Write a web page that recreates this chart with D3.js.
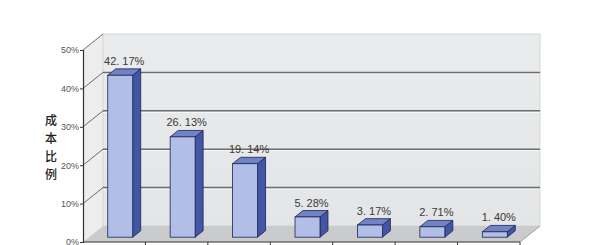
<!DOCTYPE html>
<html>
<head>
<meta charset="utf-8">
<script src="https://cdn.jsdelivr.net/npm/d3@7"></script>
<style>
  body { margin: 0; background: #fff; }
  svg { display: block; }
</style>
</head>
<body>
<div id="chart"></div>
<script>
// chart data
var categories = ["1", "2", "3", "4", "5", "6", "7"];
var values = [42.17, 26.13, 19.14, 5.28, 3.17, 2.71, 1.40];
var yTicks = [0, 10, 20, 30, 40, 50];
var yTitle = ["成", "本", "比", "例"];

var width = 593, height = 245;

// front plane of the 3d box
var x0 = 83, x1 = 520, yBase = 242, yTop = 50;
// depth offset of the back wall
var dx = 20, dy = -16;
// bars sit between these depth fractions
var f0 = 0.3, f1 = 0.7;

var svg = d3.select("#chart").append("svg")
    .attr("width", width)
    .attr("height", height);

var x = d3.scaleBand().domain(categories).range([x0, x1]).padding(0);
var y = d3.scaleLinear().domain([0, 50]).range([yBase, yTop]);

function pts(a) { return a.map(function(p) { return p.join(","); }).join(" "); }

// side wall
svg.append("polygon")
    .attr("points", pts([[x0, y(50)], [x0 + dx, y(50) + dy], [x0 + dx, y(0) + dy], [x0, y(0)]]))
    .attr("fill", "#ededee");

// back wall
var wallGrad = svg.append("defs").append("linearGradient")
    .attr("id", "wall").attr("x1", 0).attr("y1", 0).attr("x2", 0).attr("y2", 1);
wallGrad.append("stop").attr("offset", 0).attr("stop-color", "#eaebec");
wallGrad.append("stop").attr("offset", 1).attr("stop-color", "#e4e5e6");

svg.append("rect")
    .attr("x", x0 + dx).attr("y", y(50) + dy)
    .attr("width", x1 - x0).attr("height", y(0) - y(50))
    .attr("fill", "url(#wall)")
    .attr("stroke", "#d4d5d6").attr("stroke-width", 1);

// floor
svg.append("polygon")
    .attr("points", pts([[x0, y(0)], [x1, y(0)], [x1 + dx, y(0) + dy], [x0 + dx, y(0) + dy]]))
    .attr("fill", "#c9cbcc");

// gridlines on back wall + side wall
var grid = yTicks.filter(function(d) { return d > 0 && d < 50; });
svg.selectAll(".grid-hi").data(grid).enter().append("line")
    .attr("x1", x0 + dx).attr("x2", x1 + dx)
    .attr("y1", function(d) { return y(d) + dy + 1.5; })
    .attr("y2", function(d) { return y(d) + dy + 1.5; })
    .attr("stroke", "#fafafa").attr("stroke-width", 1);
svg.selectAll(".grid").data(grid).enter().append("line")
    .attr("x1", x0 + dx).attr("x2", x1 + dx)
    .attr("y1", function(d) { return y(d) + dy; })
    .attr("y2", function(d) { return y(d) + dy; })
    .attr("stroke", "#6c6d6e").attr("stroke-width", 1.5);
svg.selectAll(".diag").data(yTicks.filter(function(d) { return d > 0; })).enter().append("line")
    .attr("x1", x0).attr("x2", x0 + dx)
    .attr("y1", function(d) { return y(d); })
    .attr("y2", function(d) { return y(d) + dy; })
    .attr("stroke", "#4a4a4a").attr("stroke-width", 0.8);

// floor right edge
svg.append("line")
    .attr("x1", x1).attr("y1", y(0)).attr("x2", x1 + dx).attr("y2", y(0) + dy)
    .attr("stroke", "#8a8b8c").attr("stroke-width", 0.8);

// bars
var bw = x.bandwidth() * 0.4;
var bars = svg.selectAll(".bar").data(values).enter().append("g").attr("class", "bar");

bars.each(function(v, i) {
  var g = d3.select(this);
  var bx = x(categories[i]) + (x.bandwidth() - bw) / 2 + f0 * dx;
  var ox = (f1 - f0) * dx, oy = (f1 - f0) * dy;
  var yb = y(0) + f0 * dy, yt = y(v) + f0 * dy;
  // side
  g.append("polygon")
      .attr("points", pts([[bx + bw, yt], [bx + bw + ox, yt + oy], [bx + bw + ox, yb + oy], [bx + bw, yb]]))
      .attr("fill", "#4256a5").attr("stroke", "#1c2553").attr("stroke-width", 0.8)
      .attr("stroke-linejoin", "round");
  // top
  g.append("polygon")
      .attr("points", pts([[bx, yt], [bx + ox, yt + oy], [bx + bw + ox, yt + oy], [bx + bw, yt]]))
      .attr("fill", "#7083c6").attr("stroke", "#1c2553").attr("stroke-width", 0.8)
      .attr("stroke-linejoin", "round");
  // front
  g.append("rect")
      .attr("x", bx).attr("y", yt).attr("width", bw).attr("height", yb - yt)
      .attr("fill", "#b1bee7").attr("stroke", "#1c2553").attr("stroke-width", 0.8);
  // value label
  g.append("text")
      .attr("x", bx + bw / 2 + ox / 2)
      .attr("y", yt + oy - 4)
      .attr("text-anchor", "middle")
      .attr("font-family", "Liberation Sans, Arial, sans-serif")
      .attr("font-size", 11)
      .attr("fill", "#3a3a3a")
      .text(d3.format(".2f")(v).replace(".", ". ") + "%");
});

// y axis
var yAxis = svg.append("g")
    .attr("transform", "translate(" + x0 + ",0)")
    .call(d3.axisLeft(y).tickValues(yTicks).tickSize(3).tickPadding(1)
      .tickFormat(function(d) { return d + "%"; }));
yAxis.select(".domain").attr("stroke", "#333").attr("stroke-width", 1.2);
yAxis.selectAll(".tick line").attr("stroke", "#333");
yAxis.selectAll("text")
    .attr("font-family", "Liberation Sans, Arial, sans-serif")
    .attr("font-size", 9).attr("fill", "#555");

// x axis line and category boundary ticks
svg.append("line")
    .attr("x1", x0).attr("x2", x1).attr("y1", yBase).attr("y2", yBase)
    .attr("stroke", "#333").attr("stroke-width", 1.2);
svg.selectAll(".xtick").data(categories.slice(1).concat([null])).enter().append("line")
    .attr("x1", function(d) { return d ? x(d) : x1; })
    .attr("x2", function(d) { return d ? x(d) : x1; })
    .attr("y1", yBase).attr("y2", yBase + 4)
    .attr("stroke", "#333");

// y title, stacked characters
svg.selectAll(".ytitle").data(yTitle).enter().append("text")
    .attr("x", 51)
    .attr("y", function(d, i) { return 121 + i * 17.8; })
    .attr("dy", "0.36em")
    .attr("text-anchor", "middle")
    .attr("font-family", "Noto Sans CJK SC, sans-serif")
    .attr("font-weight", 500)
    .attr("font-size", 12)
    .attr("fill", "#222")
    .text(function(d) { return d; });
</script>
</body>
</html>
